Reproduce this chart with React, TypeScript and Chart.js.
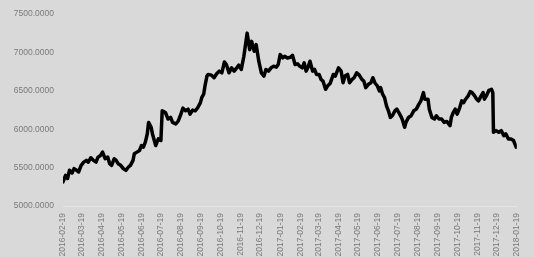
import React, { useEffect, useRef } from "react";
import { Chart, registerables } from "chart.js";

Chart.register(...registerables);

const START = "2016-02-19";

const dates = [
  "2016-02-19", "2016-02-23", "2016-02-26", "2016-02-29",
  "2016-03-04", "2016-03-07", "2016-03-11", "2016-03-14", "2016-03-18", "2016-03-22", "2016-03-26", "2016-03-29",
  "2016-04-02", "2016-04-06", "2016-04-10", "2016-04-13", "2016-04-17", "2016-04-20", "2016-04-24", "2016-04-28",
  "2016-05-01", "2016-05-04", "2016-05-08", "2016-05-11", "2016-05-14", "2016-05-18", "2016-05-22", "2016-05-26", "2016-05-30",
  "2016-06-02", "2016-06-06", "2016-06-08", "2016-06-12", "2016-06-16", "2016-06-19", "2016-06-22", "2016-06-25", "2016-06-28", "2016-06-30",
  "2016-07-04", "2016-07-06", "2016-07-11", "2016-07-15", "2016-07-19", "2016-07-21", "2016-07-26", "2016-07-30",
  "2016-08-03", "2016-08-06", "2016-08-11", "2016-08-15", "2016-08-18", "2016-08-22", "2016-08-26", "2016-08-30",
  "2016-09-02", "2016-09-06", "2016-09-10", "2016-09-14", "2016-09-18", "2016-09-20", "2016-09-23", "2016-09-25", "2016-09-28", "2016-09-30",
  "2016-10-05", "2016-10-09", "2016-10-13", "2016-10-17", "2016-10-21", "2016-10-25", "2016-10-28",
  "2016-11-01", "2016-11-05", "2016-11-09", "2016-11-13", "2016-11-16", "2016-11-20", "2016-11-24", "2016-11-29",
  "2016-12-03", "2016-12-06", "2016-12-10", "2016-12-13", "2016-12-17", "2016-12-21", "2016-12-25", "2016-12-28",
  "2017-01-01", "2017-01-05", "2017-01-09", "2017-01-13", "2017-01-16", "2017-01-19", "2017-01-23", "2017-01-26", "2017-01-30",
  "2017-02-04", "2017-02-07", "2017-02-11", "2017-02-15", "2017-02-18", "2017-02-22", "2017-02-25", "2017-02-28",
  "2017-03-03", "2017-03-06", "2017-03-10", "2017-03-13", "2017-03-16", "2017-03-20", "2017-03-23", "2017-03-26", "2017-03-30",
  "2017-04-02", "2017-04-06", "2017-04-11", "2017-04-14", "2017-04-19", "2017-04-23", "2017-04-26", "2017-04-29",
  "2017-05-03", "2017-05-06", "2017-05-10", "2017-05-13", "2017-05-17", "2017-05-21", "2017-05-25", "2017-05-28", "2017-05-31",
  "2017-06-04", "2017-06-08", "2017-06-11", "2017-06-14", "2017-06-18", "2017-06-21", "2017-06-23", "2017-06-26", "2017-06-29",
  "2017-07-02", "2017-07-05", "2017-07-08", "2017-07-11", "2017-07-15", "2017-07-18", "2017-07-21", "2017-07-25", "2017-07-27", "2017-07-30",
  "2017-08-01", "2017-08-05", "2017-08-09", "2017-08-13", "2017-08-17", "2017-08-21", "2017-08-24", "2017-08-28", "2017-08-30",
  "2017-09-04", "2017-09-06", "2017-09-10", "2017-09-14", "2017-09-17", "2017-09-21", "2017-09-25", "2017-09-29",
  "2017-10-03", "2017-10-06", "2017-10-08", "2017-10-10", "2017-10-13", "2017-10-16", "2017-10-19", "2017-10-23", "2017-10-26", "2017-10-29",
  "2017-11-01", "2017-11-05", "2017-11-08", "2017-11-11", "2017-11-15", "2017-11-18", "2017-11-21", "2017-11-25", "2017-11-28", "2017-11-30",
  "2017-12-03", "2017-12-07", "2017-12-11", "2017-12-13", "2017-12-14", "2017-12-18", "2017-12-22", "2017-12-26", "2017-12-30",
  "2018-01-02", "2018-01-06", "2018-01-10", "2018-01-14", "2018-01-18",
];

const prices = [
  5314, 5400, 5358, 5465,
  5430, 5487, 5465, 5443, 5530, 5572, 5594, 5572,
  5629, 5594, 5572, 5637, 5659, 5702, 5616, 5637,
  5551, 5530, 5616, 5594, 5551, 5530, 5487, 5465, 5508,
  5530, 5594, 5681, 5702, 5723, 5788, 5766, 5831, 5939, 6089,
  6025, 5939, 5788, 5874, 5853, 6240, 6218, 6133,
  6154, 6089, 6068, 6111, 6176, 6275, 6240, 6262,
  6197, 6249, 6240, 6283, 6347, 6412, 6456, 6563, 6693, 6714,
  6705, 6671, 6722, 6757, 6735, 6877, 6843,
  6735, 6800, 6757, 6800, 6834, 6779, 6951, 7252,
  7037, 7145, 7016, 7102, 6886, 6735, 6693, 6779,
  6757, 6800, 6822, 6809, 6843, 6972, 6929, 6951, 6929,
  6938, 6964, 6843, 6852, 6822, 6800, 6865, 6757,
  6809, 6886, 6757, 6779, 6714, 6714, 6649, 6628, 6520,
  6563, 6595, 6714, 6693, 6800, 6757, 6606, 6693,
  6714, 6606, 6649, 6671, 6735, 6705, 6649, 6628, 6542,
  6585, 6606, 6671, 6606, 6563, 6499, 6542, 6456, 6412,
  6305, 6240, 6154, 6176, 6240, 6262, 6218, 6154, 6111, 6025,
  6089, 6154, 6176, 6240, 6262, 6327, 6369, 6477, 6391,
  6391, 6262, 6154, 6133, 6176, 6133, 6133, 6089,
  6102, 6068, 6046, 6154, 6218, 6262, 6197, 6283, 6369, 6347,
  6391, 6434, 6490, 6477, 6434, 6391, 6369, 6434, 6477, 6391,
  6434, 6507, 6520, 6477, 5960, 5982, 5960, 5982, 5917,
  5939, 5874, 5874, 5853, 5766,
];

const tickDates = [
  "2016-02-19", "2016-03-19", "2016-04-19", "2016-05-19", "2016-06-19", "2016-07-19",
  "2016-08-19", "2016-09-19", "2016-10-19", "2016-11-19", "2016-12-19", "2017-01-19",
  "2017-02-19", "2017-03-19", "2017-04-19", "2017-05-19", "2017-06-19", "2017-07-19",
  "2017-08-19", "2017-09-19", "2017-10-19", "2017-11-19", "2017-12-19", "2018-01-19",
];

const yMin = 5000;
const yMax = 7500;
const yStep = 500;

function dayOffset(s: string): number {
  const [y, m, d] = s.split("-").map(Number);
  const [y0, m0, d0] = START.split("-").map(Number);
  return Math.round((Date.UTC(y, m - 1, d) - Date.UTC(y0, m0 - 1, d0)) / 86400000);
}

export default function App() {
  const ref = useRef<HTMLCanvasElement | null>(null);

  useEffect(() => {
    if (!ref.current) return;
    const tickOffsets = tickDates.map(dayOffset);
    const labelFor = new Map<number, string>();
    tickDates.forEach((t, i) => labelFor.set(tickOffsets[i], t));
    const points = dates.map((d, i) => ({ x: dayOffset(d), y: prices[i] }));
    const font = { family: "'Liberation Sans', Arial, sans-serif", size: 8.5 };

    const chart = new Chart(ref.current, {
      type: "line",
      data: {
        datasets: [
          {
            data: points,
            borderColor: "#000000",
            borderWidth: 3.5,
            pointRadius: 0,
            tension: 0,
            borderJoinStyle: "round",
            borderCapStyle: "round",
            fill: false,
          },
        ],
      },
      options: {
        responsive: false,
        animation: false,
        layout: { padding: { top: 13, right: 12, left: 0, bottom: 0 } },
        plugins: { legend: { display: false }, tooltip: { enabled: false } },
        scales: {
          x: {
            type: "linear",
            min: tickOffsets[0],
            max: tickOffsets[tickOffsets.length - 1],
            afterBuildTicks: (scale: any) => {
              scale.ticks = tickOffsets.map((v) => ({ value: v }));
            },
            afterFit: (scale: any) => {
              scale.height = 51;
            },
            grid: { display: false, drawTicks: false },
            border: { display: true, color: "#e4e4e4", width: 1 },
            ticks: {
              autoSkip: false,
              minRotation: 90,
              maxRotation: 90,
              padding: 7,
              color: "#7a7a7a",
              font,
              callback: (v: any) => labelFor.get(Math.round(Number(v))) ?? "",
            },
          },
          y: {
            type: "linear",
            min: yMin,
            max: yMax,
            afterFit: (scale: any) => {
              scale.width = 63;
            },
            grid: { display: false, drawTicks: false },
            border: { display: false },
            ticks: {
              stepSize: yStep,
              padding: 9,
              color: "#7a7a7a",
              font,
              callback: (v: any) => Number(v).toFixed(4),
            },
          },
        },
      },
    } as any);
    return () => chart.destroy();
  }, []);

  return (
    <div
      style={{
        position: "fixed",
        left: 0,
        top: 0,
        width: 534,
        height: 257,
        background: "#d9d9d9",
      }}
    >
      <canvas ref={ref} width={534} height={257} style={{ display: "block" }} />
    </div>
  );
}
